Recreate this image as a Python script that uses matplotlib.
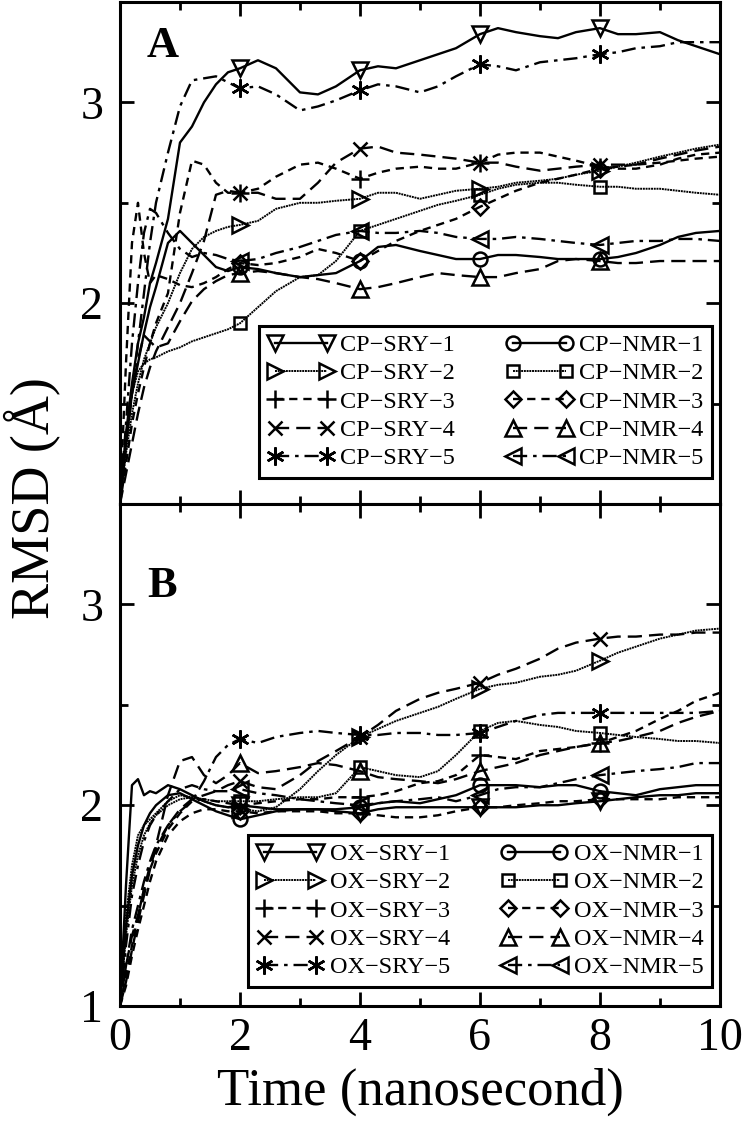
import matplotlib
matplotlib.use("Agg")
import matplotlib.pyplot as plt
from matplotlib.ticker import MultipleLocator
import numpy as np

plt.rcParams['font.family'] = ['Liberation Serif', 'DejaVu Serif']

# temps (ns)
t = [0, 0.1, 0.2, 0.3, 0.4, 0.5, 0.6, 0.8, 1.0, 1.2, 1.4, 1.6, 1.8, 2.0, 2.3, 2.6, 3.0, 3.3, 3.6,
     4.0, 4.3, 4.6, 5.0, 5.3, 5.6, 6.0, 6.3, 6.6, 7.0, 7.3, 7.6, 8.0, 8.3, 8.6, 9.0, 9.3, 9.6, 10.0]

# panneau A : CP
cp_sry1 = [1.00, 1.35, 1.60, 1.80, 1.93, 2.10, 2.20, 2.42, 2.80, 2.88, 3.00, 3.09, 3.15, 3.17, 3.21, 3.17, 3.05, 3.04, 3.08,
           3.16, 3.18, 3.17, 3.21, 3.24, 3.27, 3.34, 3.37, 3.35, 3.33, 3.32, 3.35, 3.37, 3.34, 3.34, 3.35, 3.31, 3.28, 3.24]
cp_sry2 = [1.00, 1.25, 1.45, 1.60, 1.72, 1.80, 1.88, 2.00, 2.15, 2.27, 2.33, 2.36, 2.38, 2.39, 2.41, 2.47, 2.50, 2.50, 2.51,
           2.52, 2.55, 2.55, 2.52, 2.54, 2.56, 2.57, 2.58, 2.60, 2.61, 2.62, 2.64, 2.66, 2.68, 2.70, 2.73, 2.75, 2.77, 2.79]
cp_sry3 = [1.00, 1.20, 1.40, 1.55, 1.68, 1.80, 1.90, 2.05, 2.45, 2.71, 2.69, 2.60, 2.55, 2.55, 2.57, 2.63, 2.69, 2.70, 2.67,
           2.62, 2.65, 2.67, 2.68, 2.67, 2.67, 2.70, 2.74, 2.75, 2.75, 2.73, 2.71, 2.68, 2.67, 2.67, 2.69, 2.72, 2.74, 2.75]
cp_sry4 = [1.00, 1.15, 1.30, 1.45, 1.58, 1.68, 1.76, 1.88, 2.00, 2.15, 2.31, 2.54, 2.56, 2.55, 2.55, 2.52, 2.52, 2.60, 2.70,
           2.77, 2.78, 2.75, 2.74, 2.73, 2.72, 2.70, 2.70, 2.68, 2.66, 2.67, 2.68, 2.69, 2.69, 2.69, 2.72, 2.74, 2.76, 2.78]
cp_sry5 = [1.00, 1.30, 1.55, 1.80, 2.05, 2.30, 2.50, 2.75, 2.98, 3.11, 3.12, 3.13, 3.10, 3.07, 3.08, 3.04, 2.96, 2.98, 3.01,
           3.06, 3.09, 3.08, 3.05, 3.08, 3.13, 3.19, 3.18, 3.16, 3.20, 3.21, 3.22, 3.24, 3.25, 3.27, 3.28, 3.30, 3.30, 3.30]
cp_nmr1 = [1.00, 1.30, 1.55, 1.70, 1.85, 1.98, 2.08, 2.30, 2.36, 2.30, 2.24, 2.18, 2.16, 2.18, 2.17, 2.15, 2.13, 2.14, 2.15,
           2.21, 2.28, 2.29, 2.26, 2.24, 2.22, 2.22, 2.24, 2.24, 2.23, 2.22, 2.22, 2.22, 2.23, 2.25, 2.29, 2.33, 2.35, 2.36]
cp_nmr2 = [1.00, 1.35, 1.55, 1.66, 1.70, 1.72, 1.73, 1.76, 1.78, 1.81, 1.83, 1.85, 1.87, 1.90, 1.98, 2.06, 2.13, 2.14, 2.21,
           2.36, 2.39, 2.42, 2.46, 2.49, 2.51, 2.54, 2.57, 2.59, 2.60, 2.60, 2.59, 2.58, 2.58, 2.57, 2.57, 2.56, 2.55, 2.54]
cp_nmr3 = [1.00, 1.70, 2.30, 2.50, 2.25, 2.10, 2.14, 2.12, 2.09, 2.08, 2.10, 2.13, 2.17, 2.20, 2.19, 2.20, 2.23, 2.27, 2.25,
           2.21, 2.26, 2.31, 2.36, 2.39, 2.42, 2.48, 2.52, 2.56, 2.60, 2.62, 2.64, 2.67, 2.68, 2.69, 2.70, 2.71, 2.72, 2.73]
cp_nmr4 = [1.00, 1.30, 1.55, 1.72, 1.84, 1.81, 1.78, 1.80, 1.91, 2.01, 2.07, 2.11, 2.14, 2.15, 2.16, 2.15, 2.13, 2.12, 2.10,
           2.07, 2.08, 2.10, 2.13, 2.15, 2.14, 2.13, 2.13, 2.15, 2.17, 2.21, 2.22, 2.21, 2.20, 2.20, 2.21, 2.21, 2.21, 2.21]
cp_nmr5 = [1.00, 1.40, 1.80, 2.10, 2.35, 2.47, 2.45, 2.35, 2.27, 2.23, 2.25, 2.24, 2.22, 2.21, 2.22, 2.25, 2.28, 2.31, 2.34,
           2.36, 2.35, 2.35, 2.36, 2.35, 2.33, 2.32, 2.32, 2.33, 2.32, 2.31, 2.30, 2.29, 2.30, 2.31, 2.31, 2.32, 2.32, 2.31]

# panneau B : OX
ox_sry1 = [1.00, 1.60, 2.10, 2.13, 2.05, 2.07, 2.06, 2.10, 2.08, 2.05, 2.02, 2.00, 1.99, 2.00, 1.99, 1.98, 1.98, 1.98, 1.97,
           1.96, 1.98, 1.99, 1.99, 1.99, 1.99, 1.99, 1.99, 1.99, 2.00, 2.00, 2.01, 2.02, 2.03, 2.04, 2.05, 2.05, 2.06, 2.06]
ox_sry2 = [1.00, 1.45, 1.70, 1.85, 1.90, 1.93, 1.96, 2.02, 2.05, 2.04, 2.02, 2.00, 1.99, 1.98, 1.97, 1.99, 2.08, 2.17, 2.25,
           2.34, 2.38, 2.42, 2.46, 2.49, 2.53, 2.58, 2.60, 2.61, 2.64, 2.65, 2.67, 2.72, 2.76, 2.79, 2.83, 2.85, 2.87, 2.88]
ox_sry3 = [1.00, 1.15, 1.30, 1.45, 1.58, 1.68, 1.76, 1.88, 1.96, 2.02, 2.03, 2.02, 2.01, 2.00, 2.01, 2.02, 2.03, 2.03, 2.04,
           2.04, 2.05, 2.07, 2.11, 2.12, 2.15, 2.25, 2.24, 2.23, 2.27, 2.28, 2.29, 2.31, 2.34, 2.37, 2.43, 2.47, 2.52, 2.56]
ox_sry4 = [1.00, 1.20, 1.35, 1.45, 1.58, 1.70, 1.78, 1.90, 1.98, 2.03, 2.05, 2.07, 2.10, 2.12, 2.09, 2.08, 2.15, 2.22, 2.27,
           2.34, 2.40, 2.47, 2.53, 2.56, 2.58, 2.61, 2.65, 2.68, 2.73, 2.78, 2.81, 2.83, 2.84, 2.84, 2.85, 2.85, 2.86, 2.86]
ox_sry5 = [1.00, 1.20, 1.38, 1.50, 1.62, 1.72, 1.80, 1.90, 1.97, 2.02, 2.12, 2.24, 2.30, 2.33, 2.31, 2.34, 2.36, 2.37, 2.36,
           2.35, 2.35, 2.36, 2.36, 2.35, 2.35, 2.36, 2.39, 2.42, 2.45, 2.46, 2.46, 2.46, 2.46, 2.46, 2.46, 2.46, 2.46, 2.47]
ox_nmr1 = [1.00, 1.40, 1.65, 1.80, 1.90, 1.96, 2.00, 2.05, 2.06, 2.03, 2.00, 1.97, 1.95, 1.93, 1.95, 1.97, 1.98, 1.98, 1.98,
           1.99, 2.01, 2.02, 2.01, 2.03, 2.05, 2.10, 2.10, 2.10, 2.09, 2.10, 2.10, 2.07, 2.06, 2.05, 2.08, 2.09, 2.10, 2.10]
ox_nmr2 = [1.00, 1.35, 1.60, 1.75, 1.85, 1.91, 1.95, 2.00, 2.03, 2.04, 2.03, 2.02, 2.02, 2.02, 2.02, 2.03, 2.04, 2.04, 2.06,
           2.19, 2.17, 2.15, 2.14, 2.17, 2.25, 2.37, 2.41, 2.42, 2.40, 2.39, 2.37, 2.36, 2.35, 2.34, 2.33, 2.32, 2.32, 2.31]
ox_nmr3 = [1.00, 1.10, 1.25, 1.38, 1.50, 1.62, 1.72, 1.85, 1.92, 1.96, 1.98, 1.98, 1.97, 1.97, 1.96, 1.97, 1.97, 1.97, 1.96,
           1.96, 1.95, 1.94, 1.94, 1.95, 1.97, 1.99, 1.99, 2.00, 2.01, 2.02, 2.02, 2.03, 2.03, 2.03, 2.03, 2.04, 2.04, 2.04]
ox_nmr4 = [1.00, 1.12, 1.28, 1.42, 1.55, 1.68, 1.80, 2.05, 2.22, 2.24, 2.15, 2.11, 2.15, 2.21, 2.16, 2.17, 2.19, 2.21, 2.20,
           2.17, 2.14, 2.13, 2.12, 2.11, 2.13, 2.17, 2.19, 2.21, 2.25, 2.27, 2.29, 2.31, 2.32, 2.34, 2.37, 2.41, 2.44, 2.47]
ox_nmr5 = [1.00, 1.30, 1.55, 1.70, 1.82, 1.90, 1.95, 2.02, 2.08, 2.10, 2.08, 2.07, 2.07, 2.08, 2.06, 2.05, 2.03, 2.02, 2.01,
           2.00, 2.01, 2.02, 2.03, 2.04, 2.02, 2.05, 2.08, 2.09, 2.09, 2.11, 2.13, 2.15, 2.16, 2.17, 2.18, 2.19, 2.21, 2.21]

# styles (ligne, marqueur, épaisseur) pour les runs 1..5
sry_styles = [('-', 'v', 1.7), ((0, (1, 0.4)), '>', 1.4), ((0, (3.5, 2.5)), '+', 1.7),
              ((0, (6, 3)), 'x', 1.7), ((0, (6, 2.5, 1.5, 2.5)), (6, 2, 0), 1.7)]
nmr_styles = [('-', 'o', 1.7), ((0, (1, 0.4)), 's', 1.4), ((0, (3.5, 2.5)), 'D', 1.7),
              ((0, (6, 3)), '^', 1.7), ((0, (6, 2.5, 1.5, 2.5)), '<', 1.7)]
msizes = {'v': 11, '>': 11, '+': 13, 'x': 10, 'o': 10, 's': 9, 'D': 8, '^': 11, '<': 11}

t_arr = np.array(t)
mark_idx = [int(i) for i in np.where(np.isin(t_arr, [2, 4, 6, 8]))[0]]

fig = plt.figure(figsize=(7.48, 11.31), dpi=100)
ax1 = fig.add_axes([0.1604, 0.5544, 0.8021, 0.4438])
ax2 = fig.add_axes([0.1604, 0.1105, 0.8021, 0.4438])


def draw(ax, prefix, sry, nmr):
    for k, y in enumerate(sry):
        ls, mk, lw = sry_styles[k]
        ms = msizes.get(mk, 13) if isinstance(mk, str) else 13
        ax.plot(t, y, color='k', linestyle=ls, linewidth=lw, marker=mk, markersize=ms,
                markerfacecolor='none', markeredgecolor='k', markeredgewidth=1.8,
                markevery=mark_idx, label=prefix + '\u2212SRY\u2212' + str(k + 1))
    for k, y in enumerate(nmr):
        ls, mk, lw = nmr_styles[k]
        ms = msizes.get(mk, 10)
        ax.plot(t, y, color='k', linestyle=ls, linewidth=lw, marker=mk, markersize=ms,
                markerfacecolor='none', markeredgecolor='k', markeredgewidth=1.8,
                markevery=mark_idx, label=prefix + '\u2212NMR\u2212' + str(k + 1))


draw(ax1, 'CP', [cp_sry1, cp_sry2, cp_sry3, cp_sry4, cp_sry5], [cp_nmr1, cp_nmr2, cp_nmr3, cp_nmr4, cp_nmr5])
draw(ax2, 'OX', [ox_sry1, ox_sry2, ox_sry3, ox_sry4, ox_sry5], [ox_nmr1, ox_nmr2, ox_nmr3, ox_nmr4, ox_nmr5])

for ax, anchor_y in ((ax1, 0.052), (ax2, 0.038)):
    ax.set_xlim(0, 10)
    ax.set_ylim(1, 3.5)
    ax.xaxis.set_major_locator(MultipleLocator(2))
    ax.xaxis.set_minor_locator(MultipleLocator(1))
    ax.yaxis.set_major_locator(MultipleLocator(1))
    ax.yaxis.set_minor_locator(MultipleLocator(0.5))
    ax.tick_params(which='both', direction='in', top=True, right=True, width=2)
    ax.tick_params(which='major', length=10, labelsize=33)
    ax.tick_params(which='minor', length=5.5)
    ax.tick_params(axis='y', pad=12)
    ax.tick_params(axis='x', pad=8)
    for sp in ax.spines.values():
        sp.set_linewidth(2.2)
    leg = ax.legend(ncol=2, loc='lower right', bbox_to_anchor=(0.9867, anchor_y), borderaxespad=0,
                    fontsize=17.5, numpoints=2, handlelength=2.75, handletextpad=0.25, columnspacing=2.1,
                    labelspacing=0.26, borderpad=0.35, fancybox=False, framealpha=1, edgecolor='k')
    leg.get_frame().set_linewidth(2.2)

ax1.tick_params(axis='x', labelbottom=False)
ax1.set_yticks([1, 2, 3])
ax1.set_yticklabels(['', '2', '3'])

ax1.text(0.045, 0.890, 'A', transform=ax1.transAxes, fontsize=32, fontweight='bold', ha='left', va='baseline')
ax2.text(0.045, 0.815, 'B', transform=ax2.transAxes, fontsize=32, fontweight='bold', ha='left', va='baseline')

ax2.set_xlabel('Time (nanosecond)', fontsize=38, labelpad=6)
fig.text(0.043, 0.560, 'RMSD (\u00c5)', rotation=90, fontsize=39, ha='center', va='center')

plt.savefig('out.png', dpi=100)
